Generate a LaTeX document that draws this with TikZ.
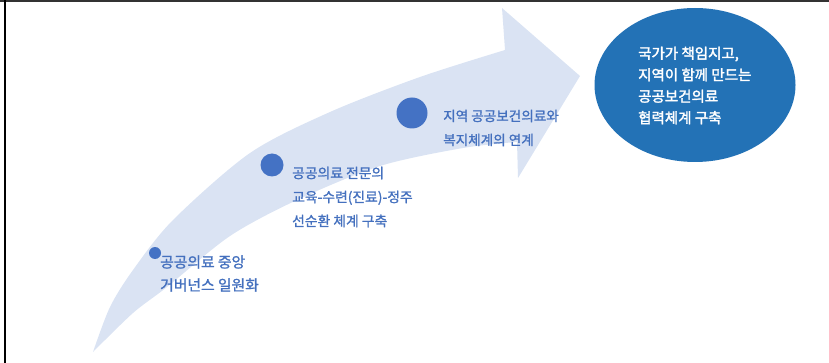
\documentclass[tikz,border=0pt]{standalone}
\usepackage{fontspec}
\newfontfamily\kr[FakeBold=1.3]{Noto Sans CJK KR}
\newfontfamily\krb[FakeBold=2.2]{Noto Sans CJK KR}
\usetikzlibrary{shapes.geometric}
\definecolor{bandblue}{HTML}{DAE3F3}
\definecolor{dotblue}{HTML}{4472C4}
\definecolor{txtblue}{HTML}{4470BE}
\definecolor{goalblue}{HTML}{2372B6}
\definecolor{framegray}{HTML}{333333}
\tikzset{
  stepdot/.style={circle, fill=dotblue, inner sep=0pt, minimum size=#1},
  lbl/.style={anchor=west, inner sep=0pt, align=left, text=txtblue},
  goaltext/.style={anchor=west, inner sep=0pt, align=left, text=white},
}
\begin{document}
\begin{tikzpicture}[x=1pt,y=-1pt]
\useasboundingbox (0,0) rectangle (829,363);
% curved arrow band
\fill[bandblue] plot[smooth] coordinates {(93,352) (110,307) (133,270) (173,220) (250,153) (330,112) (420,77) (505,50)}
  -- (502,8) -- (580,76) -- (518,178) -- (517,142)
  -- plot[smooth] coordinates {(517,142) (463,148) (380,166) (297,200) (230,236) (167,287) (133,313) (93,352)} -- cycle;
% frame
\draw[framegray, line width=1.8pt] (0,0.9) -- (829,0.9);
\draw[black, line width=2pt] (5,0) -- (5,363);
% dots
\node[stepdot=12pt] (d1) at (155,253) {};
\node[stepdot=23pt] (d2) at (272,165) {};
\node[stepdot=31pt] (d3) at (412,113) {};
% labels
\node[lbl, font=\kr\fontsize{14.8}{23}\selectfont] (l1) at (160,273.5) {공공의료 중앙\\거버넌스 일원화};
\node[lbl, font=\kr\fontsize{13.8}{24}\selectfont] (l2) at (292,197) {공공의료 전문의\\교육-수련(진료)-정주\\선순환 체계 구축};
\node[lbl, font=\kr\fontsize{13.6}{24}\selectfont] (l3) at (443,128) {지역 공공보건의료와\\복지체계의 연계};
% goal ellipse
\node[ellipse, fill=goalblue, minimum width=201pt, minimum height=154pt, inner sep=0pt] (goal) at (695,85) {};
\node[goaltext, font=\krb\fontsize{14.5}{21.5}\selectfont] (goaltxt) at (638,85.5) {국가가 책임지고,\\지역이 함께 만드는\\공공보건의료\\협력체계 구축};
\end{tikzpicture}
\end{document}
